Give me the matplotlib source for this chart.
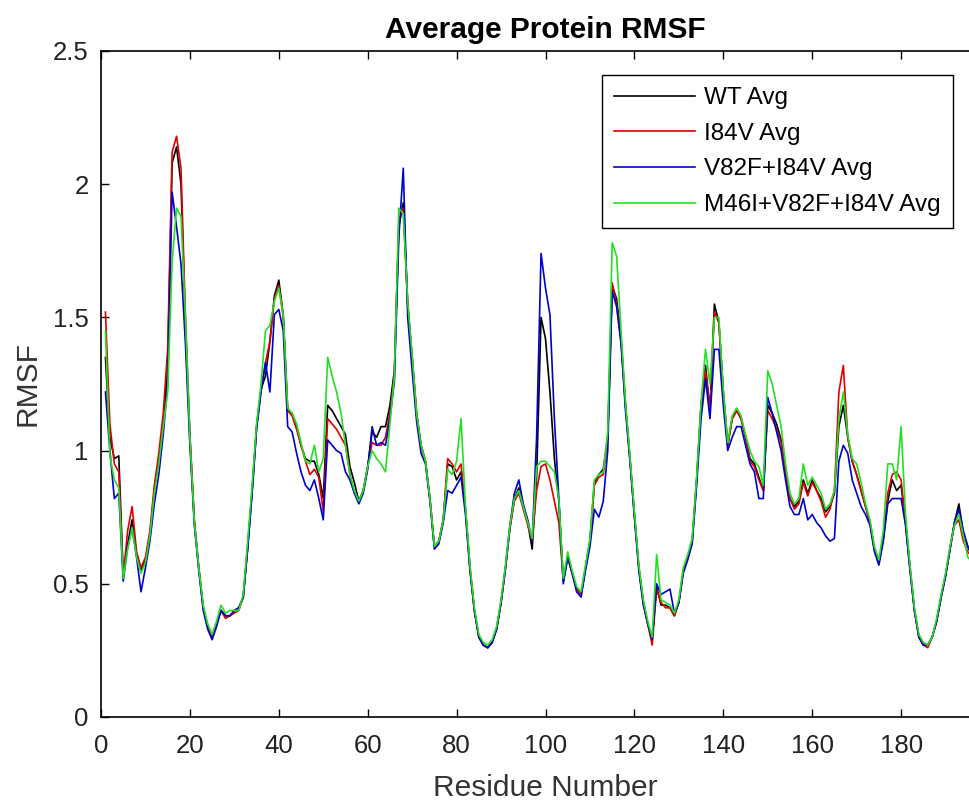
import numpy as np
import matplotlib
matplotlib.use('Agg')
import matplotlib.pyplot as plt

# residue numbers (HIV protease dimer, 2 x 99)
residue = np.arange(1, 199)

wt_avg = [
    1.35, 1.05, 0.97, 0.98, 0.53, 0.65, 0.74, 0.61, 0.55, 0.59,
    0.68, 0.85, 0.97, 1.09, 1.32, 2.08, 2.14, 2.00, 1.46, 1.05,
    0.73, 0.56, 0.41, 0.34, 0.30, 0.35, 0.40, 0.38, 0.38, 0.40,
    0.41, 0.45, 0.64, 0.85, 1.09, 1.23, 1.28, 1.41, 1.58, 1.64,
    1.51, 1.15, 1.14, 1.09, 1.02, 0.97, 0.96, 0.96, 0.91, 0.82,
    1.17, 1.15, 1.12, 1.09, 1.06, 0.94, 0.88, 0.81, 0.85, 0.94,
    1.07, 1.05, 1.09, 1.09, 1.17, 1.30, 1.84, 1.93, 1.55, 1.35,
    1.14, 1.02, 0.96, 0.82, 0.64, 0.66, 0.74, 0.95, 0.94, 0.89,
    0.92, 0.78, 0.56, 0.40, 0.30, 0.27, 0.26, 0.28, 0.33, 0.43,
    0.56, 0.71, 0.82, 0.86, 0.79, 0.73, 0.63, 0.90, 1.50, 1.42,
    1.22, 0.97, 0.81, 0.51, 0.60, 0.54, 0.48, 0.46, 0.56, 0.66,
    0.88, 0.91, 0.93, 1.05, 1.62, 1.57, 1.42, 1.17, 0.97, 0.76,
    0.56, 0.43, 0.35, 0.29, 0.49, 0.42, 0.42, 0.41, 0.38, 0.43,
    0.55, 0.60, 0.66, 0.89, 1.17, 1.32, 1.15, 1.55, 1.48, 1.22,
    1.02, 1.12, 1.15, 1.12, 1.05, 0.97, 0.95, 0.90, 0.85, 1.17,
    1.14, 1.10, 1.04, 0.92, 0.82, 0.79, 0.81, 0.89, 0.84, 0.89,
    0.85, 0.82, 0.77, 0.79, 0.84, 1.09, 1.17, 1.05, 0.96, 0.91,
    0.85, 0.79, 0.73, 0.63, 0.58, 0.67, 0.81, 0.89, 0.85, 0.87,
    0.73, 0.56, 0.40, 0.30, 0.27, 0.27, 0.30, 0.36, 0.45, 0.53,
    0.63, 0.73, 0.80, 0.69, 0.64, 0.60, 0.70, 0.95,
]

i84v_avg = [
    1.52, 1.10, 0.95, 0.92, 0.53, 0.70, 0.79, 0.62, 0.56, 0.60,
    0.70, 0.87, 0.99, 1.14, 1.38, 2.12, 2.18, 2.06, 1.50, 1.06,
    0.74, 0.56, 0.41, 0.34, 0.30, 0.35, 0.40, 0.37, 0.38, 0.39,
    0.40, 0.45, 0.64, 0.85, 1.09, 1.23, 1.33, 1.41, 1.57, 1.62,
    1.50, 1.15, 1.13, 1.08, 1.02, 0.96, 0.91, 0.93, 0.90, 0.77,
    1.12, 1.10, 1.08, 1.05, 1.02, 0.91, 0.84, 0.81, 0.85, 0.94,
    1.03, 1.02, 1.02, 1.05, 1.14, 1.28, 1.86, 1.91, 1.55, 1.35,
    1.14, 1.02, 0.96, 0.82, 0.64, 0.66, 0.74, 0.97, 0.95, 0.92,
    0.95, 0.78, 0.56, 0.40, 0.30, 0.27, 0.26, 0.28, 0.33, 0.43,
    0.56, 0.71, 0.81, 0.84, 0.78, 0.72, 0.66, 0.85, 0.94, 0.95,
    0.89, 0.81, 0.73, 0.51, 0.60, 0.54, 0.48, 0.46, 0.56, 0.66,
    0.87, 0.90, 0.91, 1.05, 1.63, 1.55, 1.41, 1.17, 0.97, 0.76,
    0.56, 0.43, 0.35, 0.27, 0.48, 0.43, 0.41, 0.41, 0.38, 0.43,
    0.55, 0.60, 0.66, 0.89, 1.17, 1.30, 1.15, 1.52, 1.48, 1.22,
    1.02, 1.12, 1.15, 1.12, 1.05, 0.96, 0.94, 0.89, 0.85, 1.15,
    1.12, 1.08, 1.03, 0.92, 0.82, 0.78, 0.80, 0.88, 0.83, 0.88,
    0.85, 0.81, 0.75, 0.78, 0.85, 1.22, 1.32, 1.05, 0.96, 0.91,
    0.85, 0.79, 0.73, 0.63, 0.58, 0.67, 0.84, 0.91, 0.92, 0.89,
    0.73, 0.56, 0.40, 0.30, 0.27, 0.26, 0.30, 0.36, 0.45, 0.53,
    0.63, 0.72, 0.74, 0.66, 0.62, 0.60, 0.68, 0.93,
]

v82f_i84v_avg = [
    1.22, 1.00, 0.82, 0.84, 0.51, 0.64, 0.71, 0.60, 0.47, 0.56,
    0.66, 0.80, 0.91, 1.06, 1.25, 1.97, 1.84, 1.70, 1.40, 1.02,
    0.72, 0.55, 0.40, 0.33, 0.29, 0.34, 0.40, 0.38, 0.38, 0.40,
    0.41, 0.45, 0.63, 0.84, 1.08, 1.22, 1.33, 1.22, 1.51, 1.53,
    1.45, 1.09, 1.07, 0.99, 0.92, 0.87, 0.85, 0.89, 0.82, 0.74,
    1.04, 1.02, 1.00, 0.99, 0.92, 0.89, 0.84, 0.80, 0.84, 0.93,
    1.09, 1.02, 1.03, 1.02, 1.12, 1.26, 1.80, 2.06, 1.50, 1.30,
    1.11, 0.99, 0.95, 0.81, 0.63, 0.65, 0.73, 0.85, 0.84, 0.87,
    0.90, 0.76, 0.55, 0.40, 0.30, 0.27, 0.26, 0.28, 0.33, 0.43,
    0.56, 0.72, 0.84, 0.89, 0.80, 0.74, 0.66, 1.05, 1.74, 1.61,
    1.51, 1.12, 0.82, 0.50, 0.60, 0.54, 0.47, 0.45, 0.55, 0.64,
    0.78, 0.75, 0.81, 1.00, 1.60, 1.54, 1.40, 1.15, 0.96, 0.75,
    0.55, 0.42, 0.35, 0.29, 0.50, 0.46, 0.47, 0.48, 0.39, 0.43,
    0.54, 0.59, 0.65, 0.87, 1.12, 1.27, 1.12, 1.38, 1.38, 1.17,
    1.00, 1.05, 1.09, 1.09, 1.02, 0.95, 0.92, 0.82, 0.82, 1.20,
    1.14, 1.07, 1.00, 0.89, 0.79, 0.76, 0.76, 0.82, 0.74, 0.76,
    0.73, 0.71, 0.68, 0.66, 0.67, 0.96, 1.02, 0.99, 0.89, 0.84,
    0.79, 0.76, 0.72, 0.62, 0.57, 0.66, 0.80, 0.82, 0.82, 0.82,
    0.72, 0.55, 0.40, 0.30, 0.27, 0.27, 0.30, 0.36, 0.45, 0.53,
    0.63, 0.73, 0.78, 0.70, 0.64, 0.61, 0.72, 1.00,
]

m46i_v82f_i84v_avg = [
    1.45, 0.98, 0.89, 0.86, 0.52, 0.63, 0.71, 0.60, 0.54, 0.58,
    0.68, 0.84, 0.95, 1.09, 1.22, 1.71, 1.91, 1.88, 1.50, 1.05,
    0.73, 0.56, 0.42, 0.35, 0.31, 0.36, 0.42, 0.39, 0.40, 0.40,
    0.40, 0.46, 0.66, 0.87, 1.10, 1.25, 1.45, 1.47, 1.56, 1.61,
    1.51, 1.16, 1.14, 1.10, 1.03, 0.96, 0.95, 1.02, 0.92, 0.97,
    1.35, 1.28, 1.22, 1.14, 1.02, 0.91, 0.85, 0.81, 0.85, 0.94,
    1.00, 0.97, 0.95, 0.92, 1.10, 1.28, 1.91, 1.89, 1.56, 1.36,
    1.14, 1.02, 0.96, 0.82, 0.64, 0.66, 0.74, 0.93, 0.91, 0.96,
    1.12, 0.79, 0.57, 0.41, 0.31, 0.28, 0.27, 0.29, 0.34, 0.44,
    0.57, 0.72, 0.82, 0.85, 0.79, 0.73, 0.67, 0.94, 0.96, 0.96,
    0.94, 0.92, 0.82, 0.52, 0.62, 0.55, 0.49, 0.47, 0.57, 0.67,
    0.89, 0.91, 0.92, 1.07, 1.78, 1.73, 1.45, 1.18, 0.98, 0.77,
    0.57, 0.44, 0.36, 0.30, 0.61, 0.44, 0.43, 0.42, 0.39, 0.44,
    0.56, 0.61, 0.67, 0.90, 1.18, 1.38, 1.25, 1.50, 1.50, 1.23,
    1.03, 1.13, 1.16, 1.13, 1.06, 1.00, 0.96, 0.94, 0.87, 1.30,
    1.25, 1.17, 1.09, 0.95, 0.84, 0.80, 0.82, 0.95, 0.87, 0.90,
    0.87, 0.84, 0.78, 0.80, 0.85, 1.12, 1.22, 1.06, 0.97, 0.95,
    0.88, 0.80, 0.74, 0.64, 0.59, 0.70, 0.95, 0.95, 0.89, 1.09,
    0.76, 0.57, 0.41, 0.31, 0.28, 0.27, 0.30, 0.37, 0.46, 0.54,
    0.64, 0.72, 0.76, 0.68, 0.60, 0.58, 0.70, 0.98,
]

labels = ['WT Avg', 'I84V Avg', 'V82F+I84V Avg', 'M46I+V82F+I84V Avg']
colors = ['black', '#e00000', '#0000d0', '#22e022']

plt.rcParams['font.family'] = ['Liberation Sans', 'DejaVu Sans']

fig = plt.figure(figsize=(9.69, 8.01), dpi=100)
# axes runs past the right edge, like the cropped original
ax = fig.add_axes([101 / 969, 84 / 801, 889 / 969, 666 / 801])

for y, lab, c in zip([wt_avg, i84v_avg, v82f_i84v_avg, m46i_v82f_i84v_avg], labels, colors):
    ax.plot(residue, y, color=c, lw=1.2, label=lab)

ax.set_xlim(0, 200)
ax.set_ylim(0, 2.5)
ax.set_xticks(range(0, 181, 20))
ax.set_yticks([0, 0.5, 1, 1.5, 2, 2.5])
ax.set_yticklabels(['0', '0.5', '1', '1.5', '2', '2.5'])
ax.tick_params(direction='in', top=True, right=True, length=6, width=1,
               labelsize=18.5, labelcolor='#222222')
ax.tick_params(axis='x', pad=12)
ax.tick_params(axis='y', pad=9)
for s in ax.spines.values():
    s.set_linewidth(1.2)

ax.set_title('Average Protein RMSF', fontsize=21.5, fontweight='bold', pad=9)
ax.set_xlabel('Residue Number', fontsize=21.5, color='#333333', labelpad=12)
ax.set_ylabel('RMSF', fontsize=21.5, color='#333333', labelpad=8)

leg = ax.legend(loc='upper right', bbox_to_anchor=(953 / 969, 1 - 75 / 801),
                bbox_transform=fig.transFigure, fontsize=17.5, frameon=True,
                fancybox=False, framealpha=1, handlelength=3.3,
                borderpad=0.5, labelspacing=0.56, handletextpad=0.4,
                borderaxespad=0)
leg.get_frame().set_edgecolor('black')
leg.get_frame().set_linewidth(1.0)

fig.savefig('out.png', dpi=100)
